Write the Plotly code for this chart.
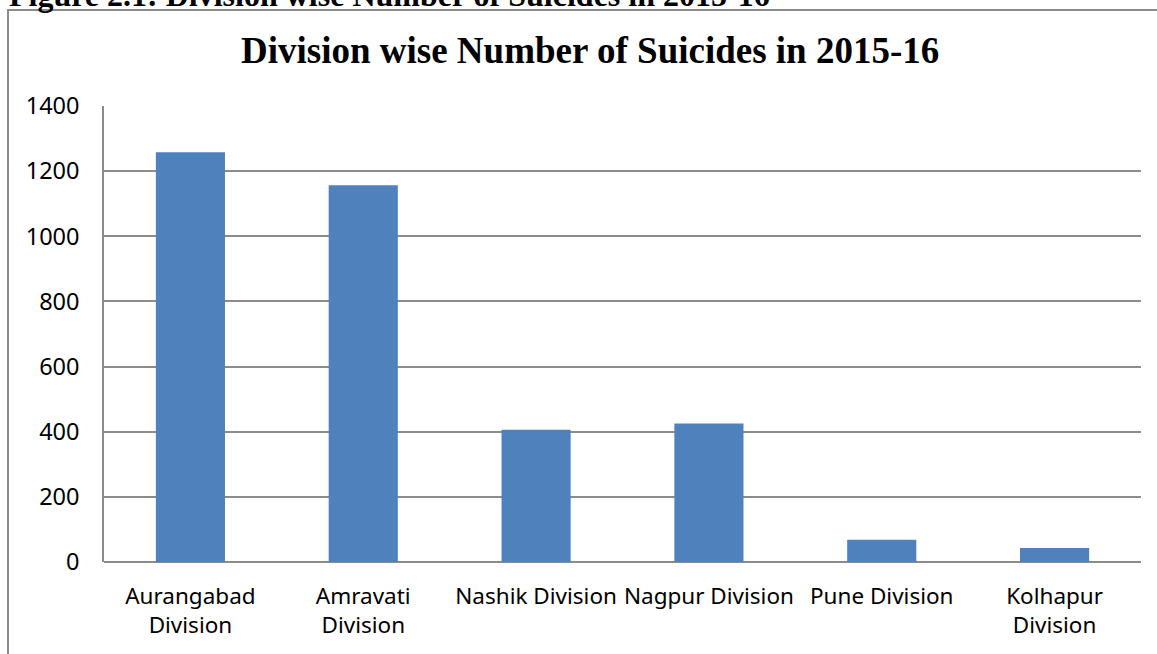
import plotly.graph_objects as go

categories = ["Aurangabad<br>Division", "Amravati<br>Division", "Nashik Division",
              "Nagpur Division", "Pune Division", "Kolhapur<br>Division"]
suicides = [1258, 1157, 406, 425, 68, 43]
y_ticks = [0, 200, 400, 600, 800, 1000, 1200, 1400]

title_text = "Division wise Number of Suicides in 2015-16"
caption_text = "Figure 2.1: Division wise Number of Suicides in 2015-16"

W, H = 1157, 654
ml, mr, mt, mb = 104, 16, 106, 92
ph = H - mt - mb
pw = W - ml - mr

def px_x(x):
    return (x - ml) / pw

def px_y(y):
    return (H - mb - y) / ph

fig = go.Figure()
fig.add_trace(go.Bar(
    x=categories, y=suicides,
    marker=dict(color="#4F81BD", line=dict(width=0)),
    hoverinfo="x+y",
))

grid_col = "#8c8c8c"
fig.update_layout(
    width=W, height=H,
    margin=dict(l=ml, r=mr, t=mt, b=mb, pad=0),
    paper_bgcolor="white", plot_bgcolor="white",
    bargap=0.6,
    showlegend=False,
    font=dict(family="Noto Sans", size=22.5, color="#000000"),
    xaxis=dict(
        showgrid=False, ticks="", showline=False, zeroline=False,
        tickfont=dict(family="Noto Sans", size=22.5, color="#000000"),
        ticklabelstandoff=18, fixedrange=True,
    ),
    yaxis=dict(
        range=[0, 1400], tickvals=y_ticks, ticktext=[str(v) for v in y_ticks],
        showgrid=True, gridcolor=grid_col, gridwidth=1.6,
        showline=True, linecolor=grid_col, linewidth=1.6,
        zeroline=True, zerolinecolor=grid_col, zerolinewidth=1.6,
        ticks="", ticklabelstandoff=18,
        tickfont=dict(family="Noto Sans", size=23.5, color="#000000"),
        fixedrange=True,
    ),
    shapes=[
        dict(type="rect", xref="paper", yref="paper",
             x0=px_x(8), x1=px_x(1300), y0=px_y(10), y1=px_y(800),
             line=dict(color="#8c8c8c", width=2), fillcolor="rgba(0,0,0,0)", layer="below"),
    ],
    annotations=[
        dict(text="<b>" + title_text + "</b>", xref="paper", yref="paper",
             x=px_x(589.5), y=px_y(51), xanchor="center", yanchor="middle",
             showarrow=False, font=dict(family="Liberation Serif", size=37, color="#000000")),
        dict(text="<b>" + caption_text + "</b>", xref="paper", yref="paper",
             x=px_x(7), y=px_y(15), xanchor="left", yanchor="bottom",
             showarrow=False, font=dict(family="Liberation Serif", size=32, color="#000000")),
    ],
)

fig.write_html("out.html", config={"displayModeBar": False},
               post_script="document.body.style.margin='0';document.body.style.overflow='hidden';")
